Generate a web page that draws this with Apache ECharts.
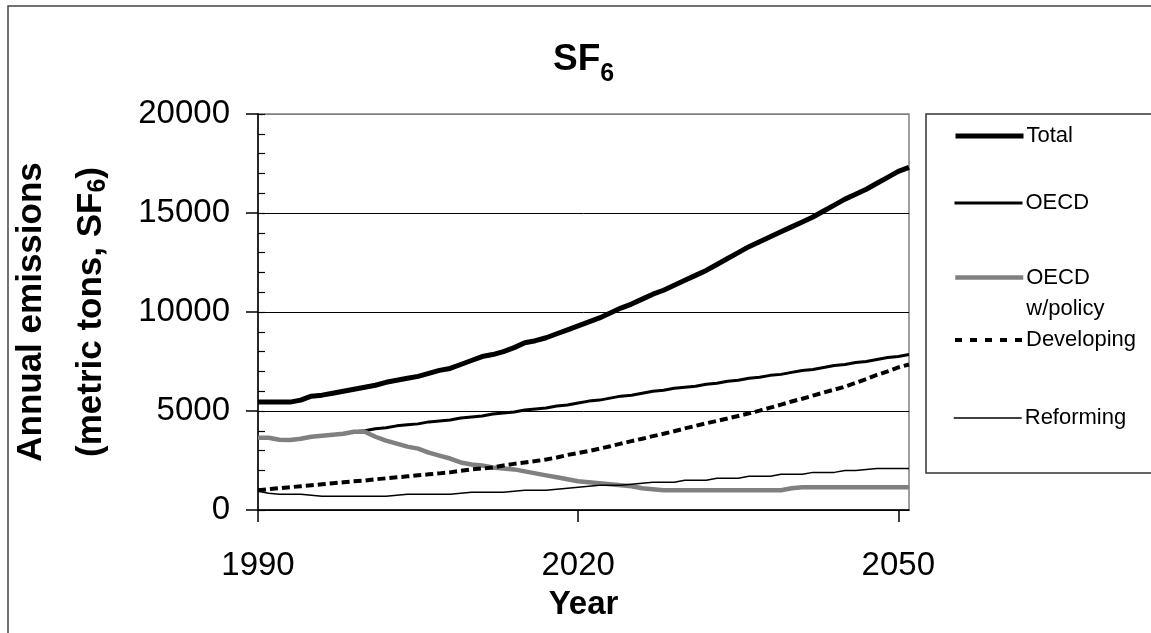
<!DOCTYPE html>
<html>
<head>
<meta charset="utf-8">
<script src="https://cdn.jsdelivr.net/npm/echarts@6/dist/echarts.min.js"></script>
<style>
html,body{margin:0;padding:0;background:#fff;}
#chart{width:1151px;height:633px;}
</style>
</head>
<body>
<div id="chart"></div>
<script>
const years = ['1990','1991','1992','1993','1994','1995','1996','1997','1998','1999',
  '2000','2001','2002','2003','2004','2005','2006','2007','2008','2009',
  '2010','2011','2012','2013','2014','2015','2016','2017','2018','2019',
  '2020','2021','2022','2023','2024','2025','2026','2027','2028','2029',
  '2030','2031','2032','2033','2034','2035','2036','2037','2038','2039',
  '2040','2041','2042','2043','2044','2045','2046','2047','2048','2049',
  '2050','2051'];
const xTickLabels = ['1990','2020','2050'];
const yMin = 0, yMax = 20000, yMajor = 5000, yMinor = 1000;

const total = [5450,5450,5450,5450,5550,5750,5800,5900,6000,6100,
  6200,6300,6450,6550,6650,6750,6900,7050,7150,7350,
  7550,7750,7850,8000,8200,8450,8550,8700,8900,9100,
  9300,9500,9700,9950,10200,10400,10650,10900,11100,11350,
  11600,11850,12100,12400,12700,13000,13300,13550,13800,14050,
  14300,14550,14800,15100,15400,15700,15950,16200,16500,16800,
  17100,17300];
const oecd = [3650,3650,3550,3530,3600,3700,3750,3800,3850,3950,
  4000,4100,4150,4250,4300,4350,4450,4500,4550,4650,
  4700,4750,4850,4900,4950,5050,5100,5150,5250,5300,
  5400,5500,5550,5650,5750,5800,5900,6000,6050,6150,
  6200,6250,6350,6400,6500,6550,6650,6700,6800,6850,
  6950,7050,7100,7200,7300,7350,7450,7500,7600,7700,
  7750,7850];
const oecdPolicy = [3650,3650,3550,3530,3600,3700,3750,3800,3850,3950,
  3950,3700,3500,3350,3200,3100,2900,2750,2600,2400,
  2300,2250,2150,2100,2050,1950,1850,1750,1650,1550,
  1450,1400,1350,1300,1250,1200,1100,1050,1000,1000,
  1000,1000,1000,1000,1000,1000,1000,1000,1000,1000,
  1100,1150,1150,1150,1150,1150,1150,1150,1150,1150,
  1150,1150];
const developing = [1000,1050,1100,1150,1200,1250,1300,1350,1400,1450,
  1480,1550,1600,1650,1700,1750,1800,1850,1900,1980,
  2050,2100,2150,2250,2330,2400,2470,2550,2650,2780,
  2880,2980,3100,3220,3350,3480,3600,3730,3850,3980,
  4120,4250,4380,4500,4620,4750,4880,5020,5170,5320,
  5480,5620,5780,5930,6080,6230,6420,6620,6820,7000,
  7200,7350];
const reforming = [950,850,800,800,800,750,700,700,700,700,
  700,700,700,750,800,800,800,800,800,850,
  900,900,900,900,950,1000,1000,1000,1050,1100,
  1150,1200,1250,1250,1250,1300,1350,1400,1400,1400,
  1500,1500,1500,1600,1600,1600,1700,1700,1700,1800,
  1800,1800,1900,1900,1900,2000,2000,2050,2100,2100,
  2100,2100];
const seriesNames = ['Total','OECD','OECD w/policy','Developing','Reforming'];

const FONT = '"Liberation Sans", Arial, sans-serif';

const chart = echarts.init(document.getElementById('chart'), null, {renderer:'canvas'});
const tickFn = (idx, val) => xTickLabels.indexOf(val) >= 0;

function legendAt(name, top, lineStyle, extra) {
  return Object.assign({
    data: [name],
    left: 953, top: top, orient: 'vertical', padding: 0,
    itemWidth: 68, itemHeight: 30, itemGap: 0,
    selectedMode: false,
    itemStyle: {opacity: 0},
    lineStyle: lineStyle,
    textStyle: {fontFamily: FONT, fontSize: 22, color: '#000', padding: [0,0,0,-2]}
  }, extra || {});
}

const option = {
  backgroundColor: '#fff',
  animation: false,
  title: {
    text: '{s|SF}{sub|6}',
    left: 553, top: 40, padding: 0,
    textStyle: {
      rich: {
        s: {fontFamily: FONT, fontSize: 37, fontWeight: 'bold', color: '#000', lineHeight: 40},
        sub: {fontFamily: FONT, fontSize: 25, fontWeight: 'bold', color: '#000', lineHeight: 40, padding: [28,0,0,0]}
      }
    }
  },
  legend: [
    legendAt('Total', 124, {color: '#000', width: 5}),
    legendAt('OECD', 191, {color: '#000', width: 3}),
    legendAt('OECD w/policy', 231, {color: '#808080', width: 4.5},
      {formatter: function(){ return '\u00a0\nOECD\nw/policy'; },
       textStyle: {fontFamily: FONT, fontSize: 22, color: '#000', lineHeight: 31, padding: [0,0,0,-2]}}),
    legendAt('Developing', 328, {color: '#000', width: 4, type: [7,8]}),
    legendAt('Reforming', 406, {color: '#000', width: 1.5})
  ],
  graphic: [
    {type: 'rect', shape: {x: 8, y: 6, width: 1200, height: 700}, style: {fill: 'none', stroke: '#444', lineWidth: 1.5}, silent: true},
    {type: 'rect', shape: {x: 926, y: 114, width: 300, height: 359}, style: {fill: 'none', stroke: '#333', lineWidth: 1.5}, silent: true}
  ],
  grid: {left: 258, top: 114, right: 242, bottom: 123, containLabel: false, outerBoundsMode: 'none',
    show: true, borderColor: '#808080', borderWidth: 1.5, backgroundColor: 'transparent'},
  xAxis: {
    type: 'category', data: years, boundaryGap: false,
    name: 'Year', nameLocation: 'middle', nameGap: 78,
    nameTextStyle: {fontFamily: FONT, fontSize: 33, fontWeight: 'bold', color: '#000'},
    axisLine: {show: true, lineStyle: {color: '#000', width: 1.5}},
    axisTick: {show: true, interval: tickFn, length: 12, lineStyle: {color: '#000', width: 1.5}},
    axisLabel: {interval: tickFn, margin: 39, fontFamily: FONT, fontSize: 33, color: '#000'},
    splitLine: {show: false}
  },
  yAxis: [{
    type: 'value', min: yMin, max: yMax, interval: yMajor,
    name: '{n|Annual emissions}\n{n|(metric tons, SF}{sb|6}{n|)}',
    nameLocation: 'middle', nameGap: 137,
    nameTextStyle: {
      rich: {
        n: {fontFamily: FONT, fontSize: 35, fontWeight: 'bold', color: '#000', lineHeight: 60},
        sb: {fontFamily: FONT, fontSize: 25, fontWeight: 'bold', color: '#000', lineHeight: 60, padding: [14,0,0,0]}
      }
    },
    axisLine: {show: true, lineStyle: {color: '#000', width: 1.5}},
    axisTick: {show: true, length: 12, lineStyle: {color: '#000', width: 1.5}},
    axisLabel: {margin: 28, fontFamily: FONT, fontSize: 33, color: '#000', formatter: function(v){ return String(v); }},
    splitLine: {show: true, lineStyle: {color: ['#000','#000','#000','#000','#808080'], width: 1}}
  }, {
    type: 'value', min: yMin, max: yMax, interval: yMinor, position: 'left', offset: 0,
    axisLine: {show: false},
    axisTick: {show: true, inside: true, length: 7, lineStyle: {color: '#000', width: 1.2}},
    axisLabel: {show: false},
    splitLine: {show: false}
  }],
  series: [
    {name: seriesNames[0], type: 'line', data: total, symbol: 'none', z: 3,
     lineStyle: {color: '#000', width: 5}, itemStyle: {color: '#000'}},
    {name: seriesNames[1], type: 'line', data: oecd, symbol: 'none', z: 3,
     lineStyle: {color: '#000', width: 3}, itemStyle: {color: '#000'}},
    {name: seriesNames[2], type: 'line', data: oecdPolicy, symbol: 'none', z: 4,
     lineStyle: {color: '#808080', width: 4.5}, itemStyle: {color: '#808080'}},
    {name: seriesNames[3], type: 'line', data: developing, symbol: 'none', z: 5,
     lineStyle: {color: '#000', width: 4, type: [8,4]}, itemStyle: {color: '#000'}},
    {name: seriesNames[4], type: 'line', data: reforming, symbol: 'none', z: 5,
     lineStyle: {color: '#000', width: 1.5}, itemStyle: {color: '#000'}}
  ]
};
chart.setOption(option);
</script>
</body>
</html>
